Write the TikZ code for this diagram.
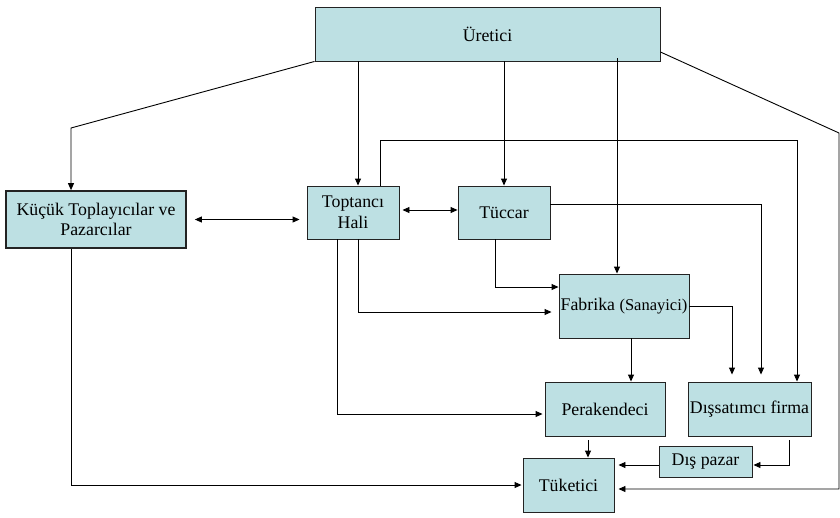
\documentclass[tikz,border=0pt]{standalone}
\usepackage{fontspec}
\setmainfont{Liberation Serif}
\usepackage{tikz}
\usetikzlibrary{arrows.meta,calc}
\definecolor{kutu}{RGB}{189,224,227}
\definecolor{kenar}{RGB}{35,35,35}

\begin{document}
\begin{tikzpicture}[x=1pt,y=1pt]
                    \tikzstyle{every node}+=[inner sep=0pt]
                    \tikzstyle{box}=[draw=kenar,fill=kutu,line width=0.9pt,align=center,font=\fontsize{17.8}{20.5}\selectfont]
                    \tikzstyle{arr}=[black,line width=0.9pt,-{Triangle[length=7pt,width=6pt]}]
                    \tikzstyle{dbl}=[black,line width=0.9pt,{Triangle[length=7pt,width=6pt]}-{Triangle[length=7pt,width=6pt]}]
                    \useasboundingbox (0,0) rectangle (840,-517);
                    % kutular
                    \node [box,minimum width=345,minimum height=54] (ure) at (487.5,-34) {\"Uretici};
                    \node [box,minimum width=180,minimum height=57,line width=1.7pt] (kuc) at (96,-219.5) {K\"u\c{c}\"uk Toplay{\i}c{\i}lar ve\\Pazarc{\i}lar};
                    \node [box,minimum width=92,minimum height=53] (tpt) at (353,-212.5) {Toptanc{\i}\\Hali};
                    \node [box,minimum width=92,minimum height=53] (tuc) at (504,-212.5) {T\"uccar};
                    \node [box,minimum width=130,minimum height=64] (fab) at (624,-306) {Fabrika {\fontsize{16.5}{19}\selectfont(Sanayici)}};
                    \node [box,minimum width=120,minimum height=54] (per) at (605,-409) {Perakendeci};
                    \node [box,minimum width=123,minimum height=54] (dis) at (749.5,-409) {D{\i}\c{s}sat{\i}mc{\i} firma};
                    \node [box,minimum width=93,minimum height=31] (dpz) at (705.5,-461.5) {D{\i}\c{s} pazar};
                    \node [box,minimum width=91,minimum height=54] (tuk) at (568.5,-485) {T\"uketici};
                    % ureticiden cikanlar
                    \draw [arr] (ure.south west) -- (71,-128) -| ([xshift=-25]kuc.north);
                    \coordinate (t1) at ([xshift=5]tpt.north);
                    \draw [arr] (t1 |- ure.south) -- (t1);
                    \draw [arr] (ure.south -| tuc.north) -- (tuc.north);
                    \coordinate (f1) at ([xshift=-7]fab.north);
                    \draw [arr] ($(f1 |- ure.south)+(0,3)$) -- (f1);
                    \draw [arr] ([yshift=-18]ure.east) -- (839,-133) |- ([xshift=4,yshift=-4]tuk.east);
                    % yatay cift oklar
                    \draw [dbl] ([xshift=8]kuc.east) -- ($(kuc.east -| tpt.west)+(-7,0)$);
                    \draw [dbl] ([xshift=3,yshift=2.5]tpt.east) -- ([yshift=2.5]tuc.west);
                    % toptanci hali
                    \draw [arr] ([xshift=27]tpt.north) -- ++(0,45) -| ([xshift=47.5]dis.north);
                    \draw [arr] ([xshift=5]tpt.south) |- ([xshift=-7,yshift=-6]fab.west);
                    \draw [arr] ([xshift=-16]tpt.south) |- ([xshift=-2,yshift=-5]per.west);
                    % tuccar
                    \draw [arr] ([yshift=8.5]tuc.east) -| ([xshift=11.5,yshift=7]dis.north);
                    \draw [arr] ([xshift=-9]tuc.south) |- ([yshift=19]fab.west);
                    % fabrika
                    \draw [arr] (fab.east) -| ([xshift=-17.5,yshift=7]dis.north);
                    \draw [arr] ([xshift=7]fab.south) -- ([xshift=26]per.north);
                    % tuketiciye
                    \draw [arr] ([xshift=-25]kuc.south) |- ([xshift=-1]tuk.west);
                    \draw [arr] ([xshift=-17,yshift=-4]per.south) -- ([xshift=19.5]tuk.north);
                    \coordinate (dp) at ([yshift=-3.5]dpz.west);
                    \draw [arr] (dp) -- ($(tuk.east |- dp)+(4,0)$);
                    \draw [arr] ([xshift=39.5,yshift=-4]dis.south) |- ([xshift=1,yshift=-3.5]dpz.east);
                \end{tikzpicture}
\end{document}
